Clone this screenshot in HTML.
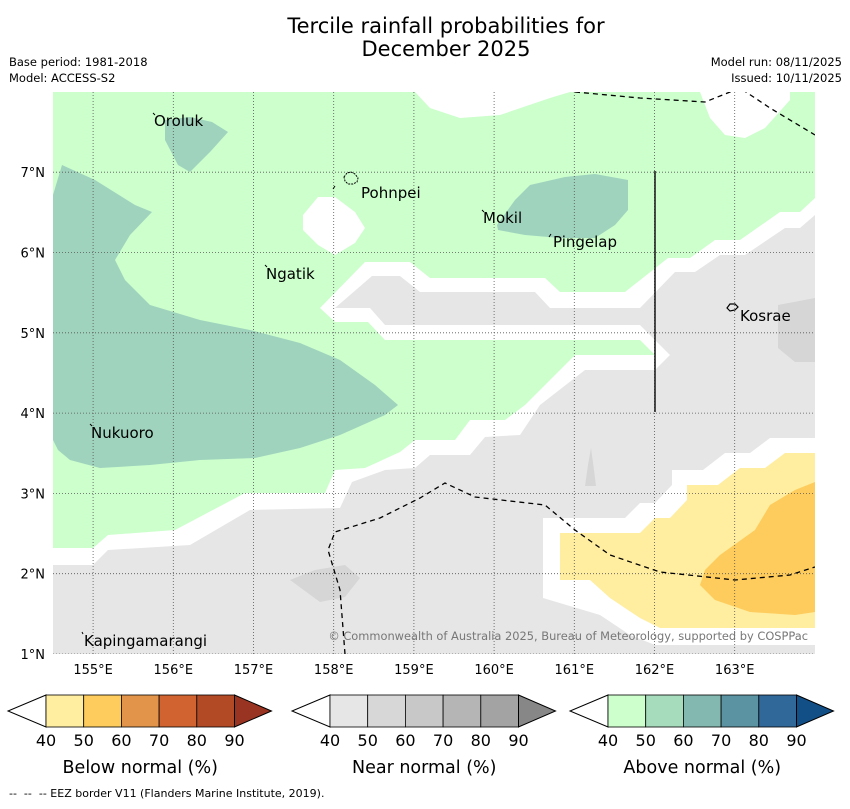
<!DOCTYPE html>
<html><head><meta charset="utf-8"><style>
body{margin:0;background:#fff;}
svg text{font-family:"DejaVu Sans","Liberation Sans",sans-serif;fill:#000;}
</style></head><body>
<svg id="c" width="850" height="804" viewBox="0 0 850 804" xmlns="http://www.w3.org/2000/svg">
<text x="446" y="33" font-size="21" text-anchor="middle">Tercile rainfall probabilities for</text>
<text x="446" y="56" font-size="21" text-anchor="middle">December 2025</text>
<text x="9" y="66" font-size="11.5">Base period: 1981-2018</text>
<text x="9" y="82" font-size="11.5">Model: ACCESS-S2</text>
<text x="842" y="66" font-size="11.5" text-anchor="end">Model run: 08/11/2025</text>
<text x="842" y="82" font-size="11.5" text-anchor="end">Issued: 10/11/2025</text>
<defs><clipPath id="mc"><rect x="53" y="92" width="762" height="562"/></clipPath></defs>
<g clip-path="url(#mc)">
<rect x="53" y="92" width="762" height="562" fill="#fff"/>
<polygon fill="#ccffcc" points="53,92 415,92 430,108 460,118 500,115 550,98 570,92 700,92 710,118 725,135 745,138 765,128 790,100 790,92 815,92 815,198 800,212 780,212 740,240 715,240 690,258 668,258 625,292 560,292 545,278 430,278 410,262 365,262 320,308 335,322 368,322 385,340 640,340 655,355 575,355 525,405 505,420 470,420 455,440 415,440 400,452 365,468 335,470 325,493 245,493 175,530 108,535 93,548 53,548"/>
<polygon fill="#fff" points="303,215 318,197 335,197 355,212 365,228 355,243 335,255 318,245 303,230"/>
<polygon fill="#9fd3bd" points="53,195 62,165 95,180 135,205 152,212 130,235 115,260 125,280 150,305 200,320 250,330 300,343 340,360 375,385 398,405 385,415 340,435 300,448 255,458 200,460 150,465 100,468 70,460 58,450 53,440"/>
<polygon fill="#9fd3bd" points="165,120 190,117 212,122 228,132 210,152 190,172 178,165 165,140"/>
<polygon fill="#9fd3bd" points="497,225 515,200 530,185 565,177 595,174 628,180 628,210 615,225 595,238 560,238 525,235 498,230"/>
<polygon fill="#e6e6e6" points="335,308 370,308 385,325 640,325 670,355 655,370 585,370 540,405 520,435 485,437 470,455 430,455 415,468 385,470 352,482 340,508 250,510 190,545 108,550 93,565 53,565 53,654 815,654 815,215 800,228 785,228 745,255 720,255 695,272 675,272 640,308 550,308 535,292 420,292 400,276 372,276"/>
<polygon fill="#d6d6d6" points="778,305 815,298 815,362 795,362 778,348"/>
<polygon fill="#d6d6d6" points="290,580 315,570 345,565 360,578 345,597 320,602"/>
<polygon fill="#d6d6d6" points="585,486 588,465 591,448 594,470 596,486"/>
<polygon fill="#fff" points="543,518 625,518 640,503 655,503 672,485 672,470 703,470 725,453 750,453 770,438 815,438 815,645 655,645 630,635 600,615 543,598"/>
<polygon fill="#ffeda0" points="560,533 640,533 655,518 670,518 687,500 687,485 718,485 740,468 765,468 785,453 815,453 815,628 660,628 640,618 610,598 590,580 560,580"/>
<polygon fill="#fecc5c" points="815,482 795,490 770,505 755,530 720,555 705,570 700,585 715,600 750,612 795,615 815,612"/>
<g id="grid"></g>
<polyline fill="none" stroke="#000" stroke-width="1.3" stroke-dasharray="5,4" points="575,92 640,98 705,102 740,88 770,108 815,135"/>
<polyline fill="none" stroke="#000" stroke-width="1.3" stroke-dasharray="5,4" points="345,654 340,590 328,550 335,532 380,518 420,498 445,483 475,497 545,505 575,530 610,555 660,572 735,580 790,575 815,567"/>
<line x1="655" y1="171" x2="655" y2="412" stroke="#222" stroke-width="1.6"/>
<path d="M344,177 l3,-4 4,-1 4,2 3,4 -1,4 -4,2 -5,0 -3,-3z" fill="none" stroke="#000" stroke-width="1" stroke-dasharray="2,1"/>
<path d="M727,308 l3,-4 5,0 3,3 -3,3 -5,1z" fill="none" stroke="#000" stroke-width="1.2"/>
<g stroke="#000" stroke-width="1">
<line x1="153" y1="113" x2="155" y2="115"/><line x1="333" y1="189" x2="335" y2="186"/><line x1="482" y1="210" x2="484" y2="212"/><line x1="549" y1="237" x2="551" y2="234"/><line x1="265" y1="265" x2="267" y2="267"/><line x1="90" y1="424" x2="92" y2="426"/><line x1="82" y1="632" x2="83" y2="634"/>
</g>
<text x="154" y="126" font-size="15">Oroluk</text>
<text x="361" y="198" font-size="15">Pohnpei</text>
<text x="483" y="223" font-size="15">Mokil</text>
<text x="553" y="247" font-size="15">Pingelap</text>
<text x="266" y="279" font-size="15">Ngatik</text>
<text x="740" y="321" font-size="15">Kosrae</text>
<text x="91" y="438" font-size="15">Nukuoro</text>
<text x="84" y="646" font-size="15">Kapingamarangi</text>
<text x="808" y="640" font-size="11.4" text-anchor="end" style="fill:#777">© Commonwealth of Australia 2025, Bureau of Meteorology, supported by COSPPac</text>
</g>
<g id="axes"></g>
<g id="cbars"></g>
<text x="9" y="797" font-size="11">-- &#160;-- &#160;-- EEZ border V11 (Flanders Marine Institute, 2019).</text>
</svg>
<script>
const lonTicks=[155,156,157,158,159,160,161,162,163];
const latTicks=[1,2,3,4,5,6,7];
const cbValues=[40,50,60,70,80,90];
const cbTitles=["Below normal (%)","Near normal (%)","Above normal (%)"];
const belowColors=["#ffeda0","#fecc5c","#e2954a","#d0632f","#b34a26","#993322"];
const nearColors=["#e6e6e6","#d7d7d7","#c8c8c8","#b5b5b5","#a3a3a3","#878787"];
const aboveColors=["#ccffcc","#a6dbbc","#83b8b0","#5b93a2","#31689a","#134f87"];
const NS="http://www.w3.org/2000/svg";
function mk(t,a,p){const e=document.createElementNS(NS,t);for(const k in a)e.setAttribute(k,a[k]);p.appendChild(e);return e;}
const X=lon=>53+(lon-154.5)*80.2;
const Y=lat=>654-(lat-1)*80.3;
const grid=document.getElementById('grid'),axes=document.getElementById('axes');
lonTicks.forEach(v=>{
 const l=mk('line',{x1:X(v),x2:X(v),y1:92,y2:654,stroke:'#555','stroke-width':0.8,'stroke-dasharray':'1,2'},grid);
 
 
 const t=mk('text',{x:X(v),y:674,'font-size':13,'text-anchor':'middle'},axes);t.textContent=v+'°E';
 
 
});
latTicks.forEach(v=>{
 const l=mk('line',{x1:53,x2:815,y1:Y(v),y2:Y(v),stroke:'#555','stroke-width':0.8,'stroke-dasharray':'1,2'},grid);
 
 
 const t=mk('text',{x:45,y:Y(v)+5,'font-size':13,'text-anchor':'end'},axes);t.textContent=v+'°N';
 
 
});
const cb=document.getElementById('cbars');
const starts=[46,330,608],sets=[belowColors,nearColors,aboveColors];
const names=['below','near','above'];
const w=37.7,y0=695,h=32;
starts.forEach((s,i)=>{
 const n=cbValues.length-1,end=s+n*w;
 const lt=mk('polygon',{points:`${s},${y0} ${s-38},${y0+h/2} ${s},${y0+h}`,fill:'#fff',stroke:'#000','stroke-width':1},cb);
 
 
 for(let k=0;k<n;k++){
  const r=mk('rect',{x:s+k*w,y:y0,width:w,height:h,fill:sets[i][k],stroke:'#000','stroke-width':0.8},cb);
  
  
 }
 const rt=mk('polygon',{points:`${end},${y0} ${end+37},${y0+h/2} ${end},${y0+h}`,fill:sets[i][n],stroke:'#000','stroke-width':1},cb);
 
 
 cbValues.forEach((v,k)=>{
  const t=mk('text',{x:s+k*w,y:746,'font-size':16,'text-anchor':'middle'},cb);t.textContent=v;
  
  
 });
 const tt=mk('text',{x:s+n*w/2,y:773,'font-size':17.5,'text-anchor':'middle'},cb);tt.textContent=cbTitles[i];
 
 
});
</script>
</body></html>
